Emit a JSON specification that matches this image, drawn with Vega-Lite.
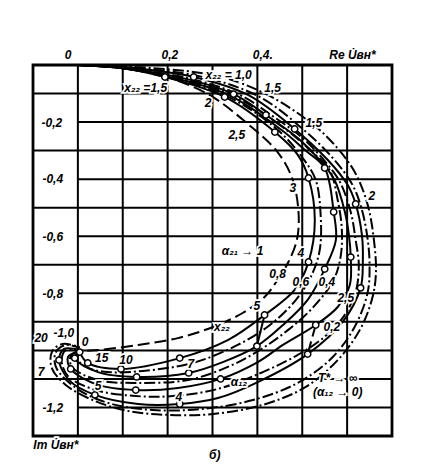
{
"$schema": "https://vega.github.io/schema/vega-lite/v6.json",
"width": 359, "height": 371,
"autosize": {"type": "none"},
"padding": {"left": 33, "top": 65, "right": 40, "bottom": 38},
"background": "white",
"config": {"view": {"stroke": "black", "strokeWidth": 2.8}},
"datasets": {
"grid": [
{"x":-0.1,"x2":0.7,"y":-0.1,"y2":-0.1},{"x":0,"x2":0.7,"y":-0.2,"y2":-0.2},{"x":-0.1,"x2":0.7,"y":-0.3,"y2":-0.3},
{"x":0,"x2":0.7,"y":-0.4,"y2":-0.4},{"x":-0.1,"x2":0.7,"y":-0.5,"y2":-0.5},{"x":0,"x2":0.7,"y":-0.6,"y2":-0.6},
{"x":-0.1,"x2":0.7,"y":-0.7,"y2":-0.7},{"x":0,"x2":0.7,"y":-0.8,"y2":-0.8},{"x":-0.1,"x2":0.7,"y":-0.9,"y2":-0.9},
{"x":-0.1,"x2":0.7,"y":-1.0,"y2":-1.0},{"x":-0.1,"x2":0.7,"y":-1.1,"y2":-1.1},{"x":0,"x2":0.7,"y":-1.2,"y2":-1.2},
{"x":0,"x2":0,"y":0,"y2":-1.3},{"x":0.1,"x2":0.1,"y":0,"y2":-1.3},{"x":0.2,"x2":0.2,"y":0,"y2":-1.3},
{"x":0.3,"x2":0.3,"y":0,"y2":-1.3},{"x":0.4,"x2":0.4,"y":0,"y2":-1.3},{"x":0.5,"x2":0.5,"y":0,"y2":-1.3},
{"x":0.6,"x2":0.6,"y":0,"y2":-1.3}
],
"curves": [
{"c":"a1","i":0,"x":0,"y":0},{"c":"a1","i":1,"x":0.1,"y":-0.007},{"c":"a1","i":2,"x":0.178,"y":-0.032},{"c":"a1","i":3,"x":0.29,"y":-0.102},{"c":"a1","i":4,"x":0.379,"y":-0.207},{"c":"a1","i":5,"x":0.445,"y":-0.305},{"c":"a1","i":6,"x":0.479,"y":-0.403},{"c":"a1","i":7,"x":0.492,"y":-0.526},{"c":"a1","i":8,"x":0.488,"y":-0.613},{"c":"a1","i":9,"x":0.468,"y":-0.694},{"c":"a1","i":10,"x":0.445,"y":-0.753},{"c":"a1","i":11,"x":0.416,"y":-0.813},{"c":"a1","i":12,"x":0.367,"y":-0.869},{"c":"a1","i":13,"x":0.301,"y":-0.918},{"c":"a1","i":14,"x":0.223,"y":-0.957},{"c":"a1","i":15,"x":0.134,"y":-0.981},{"c":"a1","i":16,"x":0.045,"y":-0.999},{"c":"a1","i":17,"x":0.004,"y":-1.002},

{"c":"a8s","i":0,"x":0,"y":0},{"c":"a8s","i":1,"x":0.1,"y":-0.011},{"c":"a8s","i":2,"x":0.194,"y":-0.042,"m":1},{"c":"a8s","i":3,"x":0.327,"y":-0.112,"m":1},{"c":"a8s","i":4,"x":0.439,"y":-0.235,"m":1},{"c":"a8s","i":5,"x":0.49,"y":-0.315},{"c":"a8s","i":6,"x":0.514,"y":-0.396,"m":1},{"c":"a8s","i":7,"x":0.528,"y":-0.543},{"c":"a8s","i":8,"x":0.514,"y":-0.69,"m":1},{"c":"a8s","i":9,"x":0.483,"y":-0.788},{"c":"a8s","i":10,"x":0.416,"y":-0.876,"m":1},{"c":"a8s","i":11,"x":0.334,"y":-0.964},{"c":"a8s","i":12,"x":0.227,"y":-1.027,"m":1},{"c":"a8s","i":13,"x":0.096,"y":-1.065,"m":1},{"c":"a8s","i":14,"x":0.022,"y":-1.044,"m":1},{"c":"a8s","i":15,"x":0.004,"y":-1.006,"m":1},

{"c":"a8d","i":0,"x":0,"y":0},{"c":"a8d","i":1,"x":0.1,"y":-0.011},{"c":"a8d","i":2,"x":0.205,"y":-0.046},{"c":"a8d","i":3,"x":0.332,"y":-0.109},{"c":"a8d","i":4,"x":0.443,"y":-0.224},{"c":"a8d","i":5,"x":0.501,"y":-0.326},{"c":"a8d","i":6,"x":0.53,"y":-0.403},{"c":"a8d","i":7,"x":0.541,"y":-0.526},{"c":"a8d","i":8,"x":0.539,"y":-0.648},{"c":"a8d","i":9,"x":0.521,"y":-0.736},{"c":"a8d","i":10,"x":0.486,"y":-0.823},{"c":"a8d","i":11,"x":0.428,"y":-0.911},{"c":"a8d","i":12,"x":0.356,"y":-0.981},{"c":"a8d","i":13,"x":0.256,"y":-1.044},{"c":"a8d","i":14,"x":0.145,"y":-1.072},{"c":"a8d","i":15,"x":0.067,"y":-1.076},{"c":"a8d","i":16,"x":0.018,"y":-1.058},{"c":"a8d","i":17,"x":-0.002,"y":-1.027},{"c":"a8d","i":18,"x":0.004,"y":-1.006},

{"c":"a6s","i":0,"x":0,"y":0},{"c":"a6s","i":1,"x":0.1,"y":-0.011},{"c":"a6s","i":2,"x":0.216,"y":-0.046},{"c":"a6s","i":3,"x":0.336,"y":-0.105},{"c":"a6s","i":4,"x":0.454,"y":-0.228},{"c":"a6s","i":5,"x":0.506,"y":-0.298},{"c":"a6s","i":6,"x":0.55,"y":-0.361,"m":1},{"c":"a6s","i":7,"x":0.57,"y":-0.515,"m":1},{"c":"a6s","i":8,"x":0.575,"y":-0.613},{"c":"a6s","i":9,"x":0.55,"y":-0.715,"m":1},{"c":"a6s","i":10,"x":0.512,"y":-0.823},{"c":"a6s","i":11,"x":0.457,"y":-0.911},{"c":"a6s","i":12,"x":0.399,"y":-0.985,"m":1},{"c":"a6s","i":13,"x":0.323,"y":-1.041},{"c":"a6s","i":14,"x":0.247,"y":-1.079,"m":1},{"c":"a6s","i":15,"x":0.131,"y":-1.093,"m":1},{"c":"a6s","i":16,"x":0.045,"y":-1.076},{"c":"a6s","i":17,"x":-0.007,"y":-1.027,"m":1},{"c":"a6s","i":18,"x":0.004,"y":-1.002},

{"c":"a6d","i":0,"x":0,"y":0},{"c":"a6d","i":1,"x":0.1,"y":-0.011},{"c":"a6d","i":2,"x":0.225,"y":-0.046},{"c":"a6d","i":3,"x":0.343,"y":-0.105},{"c":"a6d","i":4,"x":0.465,"y":-0.228},{"c":"a6d","i":5,"x":0.517,"y":-0.298},{"c":"a6d","i":6,"x":0.561,"y":-0.368},{"c":"a6d","i":7,"x":0.579,"y":-0.473},{"c":"a6d","i":8,"x":0.588,"y":-0.571},{"c":"a6d","i":9,"x":0.586,"y":-0.666},{"c":"a6d","i":10,"x":0.57,"y":-0.753},{"c":"a6d","i":11,"x":0.523,"y":-0.851},{"c":"a6d","i":12,"x":0.468,"y":-0.929},{"c":"a6d","i":13,"x":0.405,"y":-0.999},{"c":"a6d","i":14,"x":0.334,"y":-1.058},{"c":"a6d","i":15,"x":0.245,"y":-1.104},{"c":"a6d","i":16,"x":0.134,"y":-1.114},{"c":"a6d","i":17,"x":0.045,"y":-1.104},{"c":"a6d","i":18,"x":-0.013,"y":-1.058},{"c":"a6d","i":19,"x":-0.016,"y":-1.02},{"c":"a6d","i":20,"x":0.004,"y":-1.002},

{"c":"a4s","i":0,"x":0,"y":0},{"c":"a4s","i":1,"x":0.1,"y":-0.011},{"c":"a4s","i":2,"x":0.234,"y":-0.046},{"c":"a4s","i":3,"x":0.347,"y":-0.102,"m":1},{"c":"a4s","i":4,"x":0.419,"y":-0.175,"m":1},{"c":"a4s","i":5,"x":0.49,"y":-0.256},{"c":"a4s","i":6,"x":0.539,"y":-0.333},{"c":"a4s","i":7,"x":0.572,"y":-0.403},{"c":"a4s","i":8,"x":0.595,"y":-0.515},{"c":"a4s","i":9,"x":0.604,"y":-0.596},{"c":"a4s","i":10,"x":0.608,"y":-0.673,"m":1},{"c":"a4s","i":11,"x":0.606,"y":-0.771},{"c":"a4s","i":12,"x":0.579,"y":-0.848},{"c":"a4s","i":13,"x":0.53,"y":-0.911,"m":1},{"c":"a4s","i":14,"x":0.457,"y":-0.981},{"c":"a4s","i":15,"x":0.401,"y":-1.041},{"c":"a4s","i":16,"x":0.318,"y":-1.1,"m":1},{"c":"a4s","i":17,"x":0.223,"y":-1.132},{"c":"a4s","i":18,"x":0.129,"y":-1.139,"m":1},{"c":"a4s","i":19,"x":0.045,"y":-1.121},{"c":"a4s","i":20,"x":-0.016,"y":-1.065,"m":1},{"c":"a4s","i":21,"x":-0.022,"y":-1.023},{"c":"a4s","i":22,"x":0.004,"y":-1.002},

{"c":"a4d","i":0,"x":0,"y":0},{"c":"a4d","i":1,"x":0.1,"y":-0.011},{"c":"a4d","i":2,"x":0.245,"y":-0.046},{"c":"a4d","i":3,"x":0.361,"y":-0.105},{"c":"a4d","i":4,"x":0.434,"y":-0.179},{"c":"a4d","i":5,"x":0.501,"y":-0.256},{"c":"a4d","i":6,"x":0.552,"y":-0.34},{"c":"a4d","i":7,"x":0.584,"y":-0.41},{"c":"a4d","i":8,"x":0.608,"y":-0.515},{"c":"a4d","i":9,"x":0.619,"y":-0.613},{"c":"a4d","i":10,"x":0.626,"y":-0.701},{"c":"a4d","i":11,"x":0.619,"y":-0.795},{"c":"a4d","i":12,"x":0.59,"y":-0.886},{"c":"a4d","i":13,"x":0.546,"y":-0.957},{"c":"a4d","i":14,"x":0.49,"y":-1.016},{"c":"a4d","i":15,"x":0.412,"y":-1.076},{"c":"a4d","i":16,"x":0.312,"y":-1.135},{"c":"a4d","i":17,"x":0.212,"y":-1.16},{"c":"a4d","i":18,"x":0.129,"y":-1.16},{"c":"a4d","i":19,"x":0.04,"y":-1.139},{"c":"a4d","i":20,"x":-0.022,"y":-1.09},{"c":"a4d","i":21,"x":-0.036,"y":-1.034},{"c":"a4d","i":22,"x":-0.027,"y":-0.999},{"c":"a4d","i":23,"x":0.004,"y":-0.999},

{"c":"a2s","i":0,"x":0,"y":0},{"c":"a2s","i":1,"x":0.1,"y":-0.007},{"c":"a2s","i":2,"x":0.258,"y":-0.042,"m":1},{"c":"a2s","i":3,"x":0.379,"y":-0.105},{"c":"a2s","i":4,"x":0.483,"y":-0.224,"m":1},{"c":"a2s","i":5,"x":0.557,"y":-0.333},{"c":"a2s","i":6,"x":0.601,"y":-0.42},{"c":"a2s","i":7,"x":0.619,"y":-0.487,"m":1},{"c":"a2s","i":8,"x":0.633,"y":-0.596},{"c":"a2s","i":9,"x":0.635,"y":-0.69},{"c":"a2s","i":10,"x":0.63,"y":-0.781,"m":1},{"c":"a2s","i":11,"x":0.59,"y":-0.9},{"c":"a2s","i":12,"x":0.512,"y":-1.013,"m":1},{"c":"a2s","i":13,"x":0.401,"y":-1.111},{"c":"a2s","i":14,"x":0.312,"y":-1.167},{"c":"a2s","i":15,"x":0.227,"y":-1.188,"m":1},{"c":"a2s","i":16,"x":0.134,"y":-1.188},{"c":"a2s","i":17,"x":0.038,"y":-1.156,"m":1},{"c":"a2s","i":18,"x":-0.018,"y":-1.107},{"c":"a2s","i":19,"x":-0.042,"y":-1.034,"m":1},{"c":"a2s","i":20,"x":-0.031,"y":-0.995},{"c":"a2s","i":21,"x":0.004,"y":-0.999},

{"c":"a2d","i":0,"x":0,"y":0},{"c":"a2d","i":1,"x":0.1,"y":-0.007},{"c":"a2d","i":2,"x":0.278,"y":-0.042},{"c":"a2d","i":3,"x":0.405,"y":-0.112},{"c":"a2d","i":4,"x":0.501,"y":-0.224},{"c":"a2d","i":5,"x":0.568,"y":-0.326},{"c":"a2d","i":6,"x":0.612,"y":-0.42},{"c":"a2d","i":7,"x":0.633,"y":-0.508},{"c":"a2d","i":8,"x":0.646,"y":-0.613},{"c":"a2d","i":9,"x":0.65,"y":-0.701},{"c":"a2d","i":10,"x":0.646,"y":-0.795},{"c":"a2d","i":11,"x":0.619,"y":-0.911},{"c":"a2d","i":12,"x":0.568,"y":-1.023},{"c":"a2d","i":13,"x":0.49,"y":-1.114},{"c":"a2d","i":14,"x":0.39,"y":-1.174},{"c":"a2d","i":15,"x":0.278,"y":-1.205},{"c":"a2d","i":16,"x":0.167,"y":-1.209},{"c":"a2d","i":17,"x":0.067,"y":-1.184},{"c":"a2d","i":18,"x":-0.004,"y":-1.132},{"c":"a2d","i":19,"x":-0.049,"y":-1.058},{"c":"a2d","i":20,"x":-0.049,"y":-1.006},{"c":"a2d","i":21,"x":-0.027,"y":-0.981},{"c":"a2d","i":22,"x":0.004,"y":-0.992},

{"c":"out","i":0,"x":0,"y":0},{"c":"out","i":1,"x":0.1,"y":-0.004},{"c":"out","i":2,"x":0.312,"y":-0.039},{"c":"out","i":3,"x":0.423,"y":-0.105},{"c":"out","i":4,"x":0.523,"y":-0.207},{"c":"out","i":5,"x":0.572,"y":-0.28},{"c":"out","i":6,"x":0.617,"y":-0.375},{"c":"out","i":7,"x":0.646,"y":-0.491},{"c":"out","i":8,"x":0.661,"y":-0.631},{"c":"out","i":9,"x":0.664,"y":-0.736},{"c":"out","i":10,"x":0.655,"y":-0.823},{"c":"out","i":11,"x":0.628,"y":-0.929},{"c":"out","i":12,"x":0.579,"y":-1.034},{"c":"out","i":13,"x":0.508,"y":-1.128},{"c":"out","i":14,"x":0.412,"y":-1.191},{"c":"out","i":15,"x":0.301,"y":-1.223},{"c":"out","i":16,"x":0.2,"y":-1.226},{"c":"out","i":17,"x":0.111,"y":-1.212},{"c":"out","i":18,"x":0.033,"y":-1.174},{"c":"out","i":19,"x":-0.027,"y":-1.121},{"c":"out","i":20,"x":-0.058,"y":-1.062},{"c":"out","i":21,"x":-0.058,"y":-1.006},{"c":"out","i":22,"x":-0.036,"y":-0.978},{"c":"out","i":23,"x":0.004,"y":-0.988},

{"c":"k1","i":0,"x":0.53,"y":-0.911},{"c":"k1","i":1,"x":0.512,"y":-1.013},
{"c":"k2","i":0,"x":0.416,"y":-0.876},{"c":"k2","i":1,"x":0.399,"y":-0.985}
],
"labels": [
{"t":"0","x":-0.022,"y":0.035},{"t":"0,2","x":0.205,"y":0.035},{"t":"0,4.","x":0.412,"y":0.035},{"t":"Re U̇вн*","x":0.612,"y":0.035},
{"t":"-0,2","x":-0.058,"y":-0.203},{"t":"-0,4","x":-0.056,"y":-0.399},{"t":"-0,6","x":-0.056,"y":-0.603},{"t":"-0,8","x":-0.056,"y":-0.802},
{"t":"20","x":-0.082,"y":-0.957},{"t":"-1,0","x":-0.031,"y":-0.939},{"t":"0","x":0.016,"y":-0.971},{"t":"7","x":-0.082,"y":-1.076},{"t":"-1,2","x":-0.056,"y":-1.202},
{"t":"Im U̇вн*","x":-0.049,"y":-1.331},{"t":"б)","x":0.305,"y":-1.367},
{"t":"x₂₂ = 1,0","x":0.336,"y":-0.035},{"t":"x₂₂ =1,5","x":0.151,"y":-0.081},{"t":"1,5","x":0.434,"y":-0.081},{"t":"2","x":0.29,"y":-0.133},
{"t":"2,5","x":0.354,"y":-0.245},{"t":"1,5","x":0.526,"y":-0.203},{"t":"3","x":0.479,"y":-0.431},{"t":"2","x":0.655,"y":-0.459},
{"t":"α₂₁ → 1","x":0.367,"y":-0.652},{"t":"4","x":0.497,"y":-0.659},{"t":"0,8","x":0.445,"y":-0.732},{"t":"0,6","x":0.497,"y":-0.76},
{"t":"0,4","x":0.555,"y":-0.762},{"t":"2,5","x":0.597,"y":-0.818},{"t":"5","x":0.399,"y":-0.844},{"t":"x₂₂","x":0.321,"y":-0.918},
{"t":"0,2","x":0.566,"y":-0.918},{"t":"15","x":0.053,"y":-1.027},{"t":"10","x":0.107,"y":-1.034},{"t":"7","x":0.252,"y":-1.048},
{"t":"α₁₂","x":0.359,"y":-1.111},{"t":"T* → ∞","x":0.579,"y":-1.097},{"t":"(α₁₂ → 0)","x":0.579,"y":-1.146},
{"t":"5","x":0.045,"y":-1.125},{"t":"4","x":0.225,"y":-1.163}
]
},
"encoding": {
"x": {"type": "quantitative", "scale": {"domain": [-0.1, 0.7], "nice": false, "zero": false}, "axis": null},
"y": {"type": "quantitative", "scale": {"domain": [-1.3, 0], "nice": false, "zero": false}, "axis": null}
},
"layer": [
{"data": {"name": "grid"}, "mark": {"type": "rule", "color": "black", "strokeWidth": 2},
 "encoding": {"x": {"field": "x", "type": "quantitative"}, "x2": {"field": "x2"}, "y": {"field": "y", "type": "quantitative"}, "y2": {"field": "y2"}}},
{"data": {"name": "curves"}, "transform": [{"filter": "indexof(['a8s','a6s','a4s','a2s','k2'], datum.c) >= 0"}],
 "mark": {"type": "line", "color": "black", "strokeWidth": 2, "interpolate": "catmull-rom"},
 "encoding": {"x": {"field": "x", "type": "quantitative"}, "y": {"field": "y", "type": "quantitative"}, "detail": {"field": "c"}, "order": {"field": "i", "type": "quantitative"}}},
{"data": {"name": "curves"}, "transform": [{"filter": "indexof(['a8d','a6d','a4d','a2d','out'], datum.c) >= 0"}],
 "mark": {"type": "line", "color": "black", "strokeWidth": 2, "interpolate": "catmull-rom", "strokeDash": [11, 3, 2, 3]},
 "encoding": {"x": {"field": "x", "type": "quantitative"}, "y": {"field": "y", "type": "quantitative"}, "detail": {"field": "c"}, "order": {"field": "i", "type": "quantitative"}}},
{"data": {"name": "curves"}, "transform": [{"filter": "indexof(['a1','k1'], datum.c) >= 0"}],
 "mark": {"type": "line", "color": "black", "strokeWidth": 2, "interpolate": "catmull-rom", "strokeDash": [12, 5]},
 "encoding": {"x": {"field": "x", "type": "quantitative"}, "y": {"field": "y", "type": "quantitative"}, "detail": {"field": "c"}, "order": {"field": "i", "type": "quantitative"}}},
{"data": {"name": "curves"}, "transform": [{"filter": "datum.m == 1"}],
 "mark": {"type": "point", "shape": "circle", "filled": true, "fill": "white", "stroke": "black", "strokeWidth": 1.5, "size": 40, "opacity": 1},
 "encoding": {"x": {"field": "x", "type": "quantitative"}, "y": {"field": "y", "type": "quantitative"}}},
{"data": {"name": "labels"},
 "mark": {"type": "text", "font": "Liberation Sans", "fontSize": 12, "fontWeight": "bold", "fontStyle": "italic", "color": "white", "stroke": "white", "strokeWidth": 3.5, "align": "center", "baseline": "middle"},
 "encoding": {"x": {"field": "x", "type": "quantitative"}, "y": {"field": "y", "type": "quantitative"}, "text": {"field": "t"}}},
{"data": {"name": "labels"},
 "mark": {"type": "text", "font": "Liberation Sans", "fontSize": 12, "fontWeight": "bold", "fontStyle": "italic", "color": "black", "align": "center", "baseline": "middle"},
 "encoding": {"x": {"field": "x", "type": "quantitative"}, "y": {"field": "y", "type": "quantitative"}, "text": {"field": "t"}}}
]
}
